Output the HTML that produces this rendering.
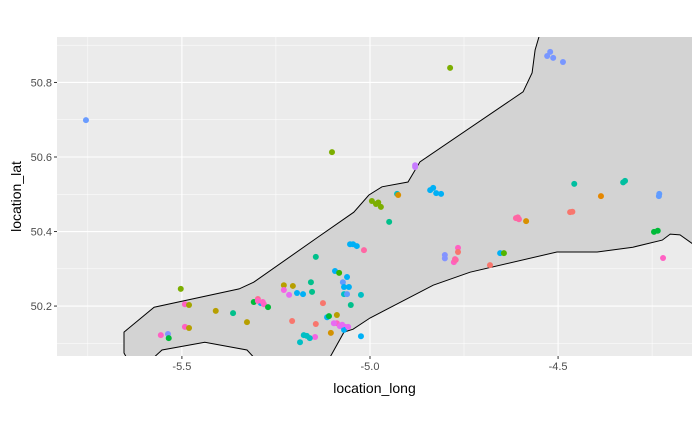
<!DOCTYPE html>
<html><head><meta charset="utf-8"><style>
body{margin:0;background:#fff;font-family:"Liberation Sans",sans-serif}
</style></head><body>
<svg id="chart" width="700" height="432" xmlns="http://www.w3.org/2000/svg"></svg>
<script>
const xTicks=[-5.5,-5.0,-4.5];
const xTickLabels=["-5.5","-5.0","-4.5"];
const yTicks=[50.2,50.4,50.6,50.8];
const yTickLabels=["50.2","50.4","50.6","50.8"];
const coastLon=[-5.654,-5.574,-5.348,-5.309,-5.141,-5.043,-5.003,-4.968,-4.899,-4.867,-4.593,-4.569,-4.561,-4.551,-4.551,-4.0,-4.0,-4.141,-4.176,-4.202,-4.223,-4.301,-4.396,-4.503,-4.734,-4.832,-5.0,-5.045,-5.069,-5.106,-5.106,-5.293,-5.293,-5.327,-5.439,-5.553,-5.593,-5.593,-5.638,-5.638,-5.654];
const coastLat=[50.130,50.197,50.246,50.264,50.383,50.452,50.498,50.520,50.533,50.587,50.775,50.826,50.887,50.922,50.95,50.95,50.366,50.366,50.391,50.393,50.377,50.358,50.345,50.345,50.291,50.256,50.168,50.138,50.130,50.063,50.0,50.0,50.045,50.082,50.103,50.082,50.045,50.0,50.0,50.045,50.074];
const ptLon=[-5.755,-4.787,-5.101,-4.529,-4.521,-4.513,-4.487,-4.880,-4.995,-4.984,-4.971,-4.928,-4.925,-4.840,-4.832,-4.824,-4.811,-4.949,-4.457,-4.322,-4.386,-4.231,-4.468,-4.612,-4.604,-4.585,-4.245,-4.221,-4.766,-4.766,-4.777,-4.772,-4.801,-4.654,-4.644,-4.681,-5.053,-5.035,-5.016,-5.503,-5.492,-5.481,-5.410,-5.364,-5.327,-5.298,-5.290,-5.282,-5.309,-5.271,-5.229,-5.205,-5.229,-5.215,-5.194,-5.178,-5.157,-5.154,-5.144,-5.125,-5.093,-5.082,-5.072,-5.061,-5.069,-5.056,-5.069,-5.024,-5.051,-5.207,-5.144,-5.114,-5.109,-5.088,-5.088,-5.096,-5.080,-5.066,-5.069,-5.104,-5.024,-5.176,-5.186,-5.146,-5.160,-5.492,-5.481,-5.537,-5.556,-5.535,-4.232,-4.978,-4.880,-5.045,-5.061,-4.607,-4.774,-4.801,-5.298,-5.285,-5.074,-4.327,-4.462,-5.168,-5.058,-4.235];
const ptLat=[50.699,50.839,50.613,50.871,50.882,50.866,50.855,50.573,50.482,50.474,50.466,50.501,50.498,50.511,50.517,50.503,50.501,50.426,50.528,50.536,50.495,50.501,50.452,50.436,50.433,50.428,50.399,50.329,50.356,50.345,50.318,50.324,50.337,50.342,50.342,50.310,50.366,50.361,50.350,50.246,50.205,50.203,50.187,50.181,50.157,50.219,50.208,50.205,50.211,50.197,50.256,50.254,50.243,50.230,50.235,50.232,50.264,50.238,50.332,50.208,50.294,50.289,50.264,50.278,50.251,50.251,50.232,50.230,50.203,50.160,50.152,50.170,50.173,50.176,50.154,50.154,50.146,50.144,50.136,50.128,50.119,50.122,50.103,50.117,50.114,50.144,50.141,50.125,50.122,50.114,50.495,50.478,50.578,50.366,50.232,50.438,50.326,50.328,50.214,50.211,50.150,50.532,50.453,50.120,50.144,50.402];
const ptColor=["#6a9cff","#7cae00","#7cae00","#7997ff","#7997ff","#7997ff","#7997ff","#c77cff","#7cae00","#7cae00","#7cae00","#00bfc4","#d89000","#00b0f6","#00b0f6","#00b0f6","#00b0f6","#00c08b","#00bfa0","#00bfa0","#e58700","#619cff","#f8766d","#ff67a4","#ff67a4","#d89000","#00ba38","#ff61c3","#ff61c3","#f8766d","#ff61c3","#ff67a4","#8494ff","#00b0f6","#53b400","#f8766d","#00b0f6","#00b0f6","#ff67a4","#7cae00","#ff61c3","#a3a500","#b79f00","#00c08b","#b79f00","#ff6c91","#00b0f6","#ff61c3","#00ba38","#00ba38","#b79f00","#b79f00","#f564e3","#e76bf3","#00b0f6","#00b0f6","#00c08b","#00c08b","#00c08b","#f8766d","#00b0f6","#39b600","#619cff","#00b0f6","#00b0f6","#00b0f6","#00bfc4","#00bfc4","#00c08b","#f8766d","#f8766d","#00b0f6","#00ba38","#b79f00","#ff61c3","#e76bf3","#e76bf3","#e76bf3","#00b0f6","#d39200","#00b0f6","#00bfc4","#00bfc4","#f564e3","#00bfc4","#ff61c3","#b79f00","#8494ff","#ff61c3","#00ba38","#619cff","#7cae00","#c77cff","#00b0f6","#619cff","#ff67a4","#ff67a4","#8494ff","#ff61c3","#ff61c3","#e76bf3","#00bfa0","#f8766d","#00bfc4","#e76bf3","#00ba38"];

const L=57,R=692,T=37,B=356;
const xMin=-5.832,xMax=-4.144,yMin=50.066,yMax=50.922;
const xPx=v=>L+(v-xMin)/(xMax-xMin)*(R-L);
const yPx=v=>B-(v-yMin)/(yMax-yMin)*(B-T);
const svg=document.getElementById('chart');
const NS='http://www.w3.org/2000/svg';
function mk(tag,attrs,parent){const e=document.createElementNS(NS,tag);for(const k in attrs)e.setAttribute(k,attrs[k]);(parent||svg).appendChild(e);return e;}

const panel=mk('rect',{x:L,y:T,width:R-L,height:B-T,fill:'#ebebeb'});


const defs=mk('defs',{});
const cp=mk('clipPath',{id:'clip'},defs);
mk('rect',{x:L,y:T,width:R-L,height:B-T},cp);
const g=mk('g',{'clip-path':'url(#clip)'});


for(let i=0;i<=xTicks.length;i++){const v=xTicks[0]-0.25+i*0.5;const l=mk('line',{x1:xPx(v),x2:xPx(v),y1:T,y2:B,stroke:'#fff','stroke-width':0.5},g);}
for(let i=0;i<=yTicks.length;i++){const v=yTicks[0]-0.1+i*0.2;const l=mk('line',{x1:L,x2:R,y1:yPx(v),y2:yPx(v),stroke:'#fff','stroke-width':0.5},g);}
xTicks.forEach(v=>{const l=mk('line',{x1:xPx(v),x2:xPx(v),y1:T,y2:B,stroke:'#fff','stroke-width':1.1},g);});
yTicks.forEach(v=>{const l=mk('line',{x1:L,x2:R,y1:yPx(v),y2:yPx(v),stroke:'#fff','stroke-width':1.1},g);});
const pts=coastLon.map((v,i)=>xPx(v).toFixed(1)+','+yPx(coastLat[i]).toFixed(1)).join(' ');
const poly=mk('polygon',{points:pts,fill:'#d3d3d3',stroke:'#000','stroke-width':1},g);


ptLon.forEach((v,i)=>{const c=mk('circle',{cx:xPx(v),cy:yPx(ptLat[i]),r:3,fill:ptColor[i]},g);

});
xTicks.forEach((v,i)=>{mk('line',{x1:xPx(v),x2:xPx(v),y1:B,y2:B+3,stroke:'#333','stroke-width':1});
const t=mk('text',{x:xPx(v),y:B+14,'text-anchor':'middle','font-size':11,fill:'#4d4d4d'});t.textContent=xTickLabels[i];
});
yTicks.forEach((v,i)=>{mk('line',{x1:L-3,x2:L,y1:yPx(v),y2:yPx(v),stroke:'#333','stroke-width':1});
const t=mk('text',{x:L-5,y:yPx(v)+4,'text-anchor':'end','font-size':11,fill:'#4d4d4d'});t.textContent=yTickLabels[i];
});
const xt=mk('text',{x:(L+R)/2,y:393,'text-anchor':'middle','font-size':14,fill:'#000'});xt.textContent='location_long';

const yt=mk('text',{x:0,y:0,'text-anchor':'middle','font-size':14,fill:'#000',transform:`translate(21,${(T+B)/2}) rotate(-90)`});yt.textContent='location_lat';

</script>
</body></html>
